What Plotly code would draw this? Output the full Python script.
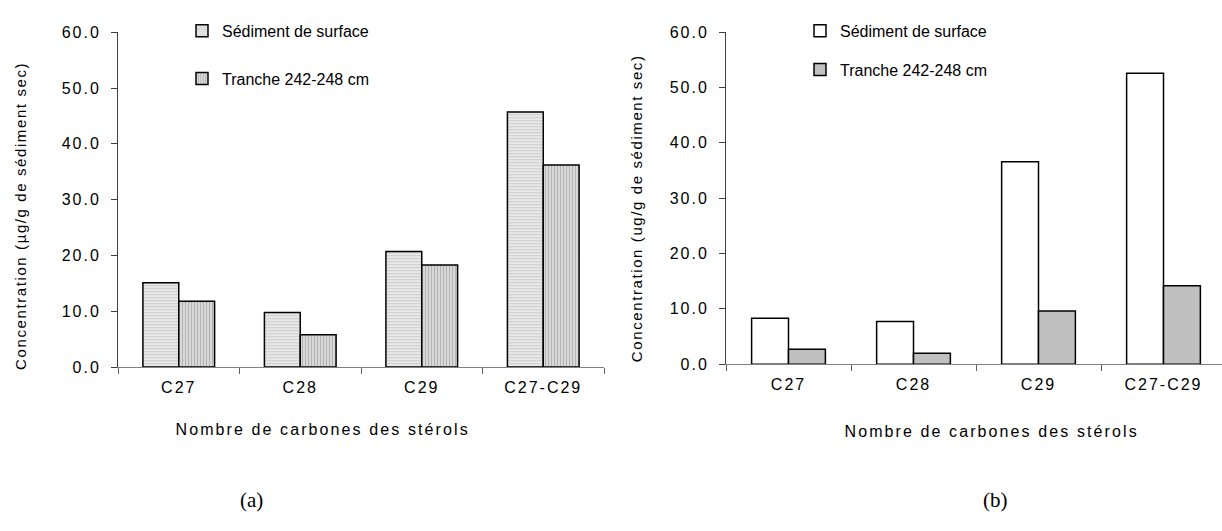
import plotly.graph_objects as go

categories = ["C27", "C28", "C29", "C27-C29"]
series_names = ["Sédiment de surface", "Tranche 242-248 cm"]
a_surface = [15.1, 9.8, 20.7, 45.7]
a_tranche = [11.8, 5.8, 18.3, 36.2]
b_surface = [8.3, 7.7, 36.6, 52.6]
b_tranche = [2.7, 2.0, 9.6, 14.2]
y_ticks = [0, 10, 20, 30, 40, 50, 60]
x_title = "Nombre de carbones des stérols"
y_title_a = "Concentration (µg/g de sédiment sec)"
y_title_b = "Concentration (ug/g de sédiment sec)"
panel_labels = ["(a)", "(b)"]

W, H = 1222, 531
FONT = "Liberation Sans, Arial, sans-serif"

def px_x(v):
    return v / W

def px_y(v):
    return (H - v) / H

fig = go.Figure()
fig.add_trace(go.Bar(
    x=categories, y=a_surface, name=series_names[0], xaxis="x", yaxis="y",
    legend="legend", legendgroup="a1",
    marker=dict(color="#e4e4e4", line=dict(color="black", width=1.5),
                pattern=dict(shape="-", fgcolor="#b0b0b0", bgcolor="#e8e8e8", size=3, solidity=0.35)),
))
fig.add_trace(go.Bar(
    x=categories, y=a_tranche, name=series_names[1], xaxis="x", yaxis="y",
    legend="legend", legendgroup="a2",
    marker=dict(color="#c8c8c8", line=dict(color="black", width=1.5),
                pattern=dict(shape="|", fgcolor="#8a8a8a", bgcolor="#dcdcdc", size=3, solidity=0.4)),
))
fig.add_trace(go.Bar(
    x=categories, y=b_surface, name=series_names[0], xaxis="x2", yaxis="y2",
    legend="legend2", legendgroup="b1",
    marker=dict(color="white", line=dict(color="black", width=1.5)),
))
fig.add_trace(go.Bar(
    x=categories, y=b_tranche, name=series_names[1], xaxis="x2", yaxis="y2",
    legend="legend2", legendgroup="b2",
    marker=dict(color="#c0c0c0", line=dict(color="black", width=1.5)),
))

xcommon = dict(
    type="category", showline=True, linecolor="#808080", linewidth=1,
    ticks="outside", tickson="boundaries", ticklen=6, tickcolor="#606060",
    tickfont=dict(family=FONT, size=16, color="black"), showgrid=False,
    zeroline=False, fixedrange=True, ticklabelstandoff=6,
)
ycommon = dict(
    range=[0, 60], tickvals=y_ticks, tickformat=".1f", showline=True,
    linecolor="#404040", linewidth=1, ticks="outside", ticklen=6,
    tickcolor="#404040", tickfont=dict(family=FONT, size=16, color="black"),
    showgrid=False, zeroline=False, fixedrange=True, ticklabelstandoff=7,
)

fig.update_layout(
    width=W, height=H, margin=dict(l=0, r=0, t=0, b=0),
    paper_bgcolor="white", plot_bgcolor="white",
    barmode="group", bargap=0.41, bargroupgap=0,
    xaxis=dict(domain=[px_x(118), px_x(604)], anchor="y", range=[-0.5, 3.5], **xcommon),
    yaxis=dict(domain=[px_y(371), px_y(25)], anchor="x", **ycommon),
    xaxis2=dict(domain=[px_x(726), 1.0], anchor="y2", range=[-0.5, 3.468], **xcommon),
    yaxis2=dict(domain=[px_y(368), px_y(25)], anchor="x2", **ycommon),
    legend=dict(x=px_x(182), y=px_y(6), xanchor="left", yanchor="top",
                font=dict(family=FONT, size=16, color="black"),
                bgcolor="rgba(0,0,0,0)", tracegroupgap=24, itemwidth=30),
    legend2=dict(x=px_x(800), y=px_y(6), xanchor="left", yanchor="top",
                 font=dict(family=FONT, size=16, color="black"),
                 bgcolor="rgba(0,0,0,0)", tracegroupgap=15, itemwidth=30),
    showlegend=True,
)

annos = [
    dict(text=x_title, x=px_x(322), y=px_y(435), size=16, angle=0),
    dict(text=x_title, x=px_x(991), y=px_y(438), size=16, angle=0),
    dict(text=y_title_a, x=px_x(20), y=px_y(215), size=15, angle=-90),
    dict(text=y_title_b, x=px_x(636), y=px_y(207), size=15, angle=-90),
]
for a in annos:
    fig.add_annotation(text=a["text"], x=a["x"], y=a["y"], xref="paper", yref="paper",
                       xanchor="center", yanchor="middle", showarrow=False, textangle=a["angle"],
                       font=dict(family=FONT, size=a["size"], color="black"))
for lbl, xx in zip(panel_labels, [251, 995]):
    fig.add_annotation(text=lbl, x=px_x(xx), y=px_y(508), xref="paper", yref="paper",
                       xanchor="center", yanchor="middle", showarrow=False,
                       font=dict(family="Liberation Serif, Times New Roman, serif", size=21, color="black"))

post = (
    "var s=document.createElement('style');"
    "s.textContent='html,body{margin:0;padding:0;overflow:hidden}"
    " .xtick text,.x2tick text,.ytick text,.y2tick text{letter-spacing:2px}"
    " g.annotation[data-index=\"0\"] text, g.annotation[data-index=\"1\"] text{letter-spacing:2.1px}"
    " g.annotation[data-index=\"2\"] text, g.annotation[data-index=\"3\"] text{letter-spacing:1.6px}"
    " .legend2 .legendtext{letter-spacing:0.8px}';"
    "document.head.appendChild(s);"
)
fig.write_html("out.html", post_script=post, config={"displayModeBar": False})
